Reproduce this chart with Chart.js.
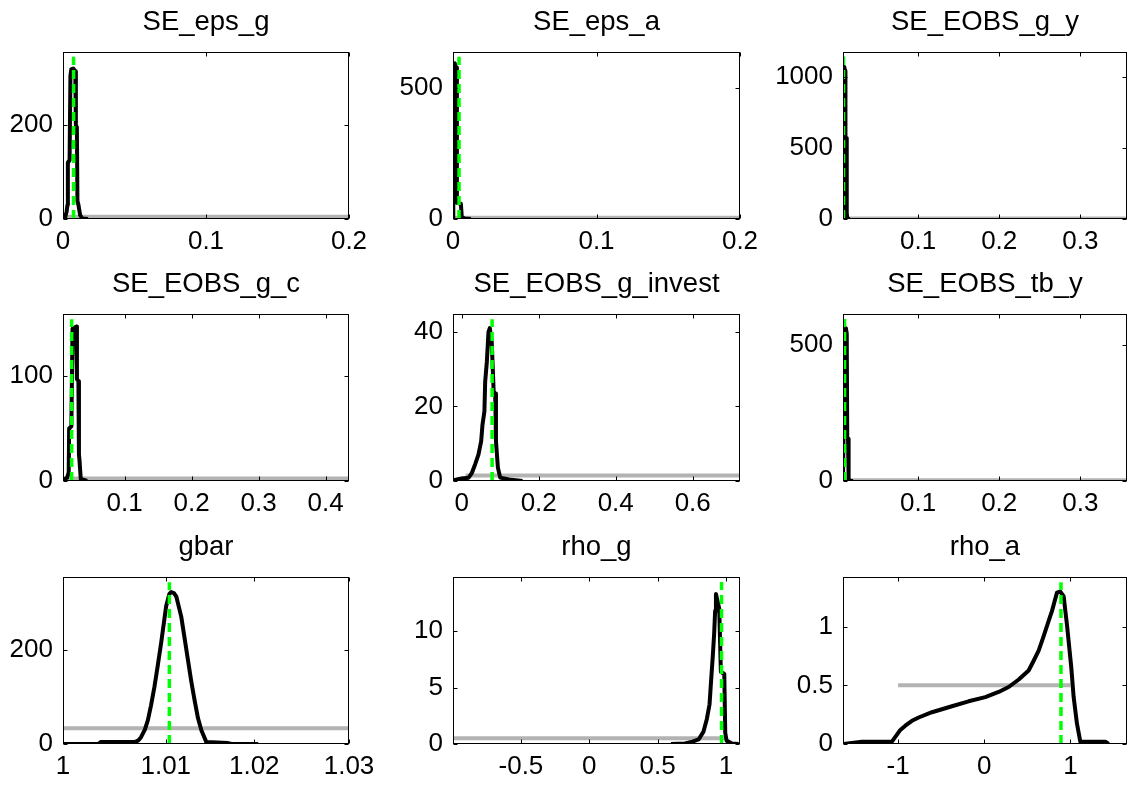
<!DOCTYPE html>
<html><head><meta charset="utf-8">
<script src="https://cdn.jsdelivr.net/npm/chart.js@4.4.1/dist/chart.umd.min.js"></script>
<style>
html,body{margin:0;padding:0;background:#fff;overflow:hidden;width:1128px;height:786px;}
#wrap{position:relative;width:1128px;height:786px;overflow:hidden;background:#fff;}
canvas{position:absolute;}
</style></head><body><div id="wrap"></div>
<script>
// ---------------- data ----------------
const titles = ['SE_eps_g','SE_eps_a','SE_EOBS_g_y','SE_EOBS_g_c','SE_EOBS_g_invest','SE_EOBS_tb_y','gbar','rho_g','rho_a'];

const SE_eps_g_x = [0, 0.0015, 0.0025, 0.0031, 0.0034, 0.0046, 0.0052, 0.0058, 0.0072, 0.0086, 0.009, 0.0097, 0.0101, 0.0108, 0.012, 0.0135, 0.0175];
const SE_eps_g_y = [0, 4, 15, 30, 120, 125, 305, 318, 320, 314, 200, 195, 38, 30, 8, 1, 0];

const SE_eps_a_x = [0, 0.0002, 0.0012, 0.0021, 0.0027, 0.0055, 0.0061, 0.008, 0.0125];
const SE_eps_a_y = [0, 585, 594, 578, 62, 58, 8, 2, 0];

const SE_EOBS_g_y_x = [0.0076, 0.0084, 0.0092, 0.0101, 0.0106, 0.0117, 0.0122, 0.013, 0.016];
const SE_EOBS_g_y_y = [0, 1070, 1072, 1045, 580, 572, 40, 3, 0];

const SE_EOBS_g_c_x = [0.008, 0.014, 0.0165, 0.0172, 0.0205, 0.0222, 0.0275, 0.0288, 0.031, 0.0318, 0.0326, 0.0345, 0.044];
const SE_EOBS_g_c_y = [1, 3, 8, 50, 52, 145, 147, 97, 95, 25, 20, 2, 0];

const SE_EOBS_g_invest_x = [-0.0226, 0.0, 0.018, 0.0266, 0.035, 0.0435, 0.0506, 0.054, 0.059, 0.061, 0.0653, 0.0696, 0.073, 0.078, 0.083, 0.087, 0.089, 0.094, 0.1, 0.123, 0.158];
const SE_EOBS_g_invest_y = [0.2, 0.7, 0.9, 2.2, 4.5, 7.1, 10.7, 15.1, 18.7, 26.7, 32, 40, 41, 37.3, 24, 23.5, 10.7, 3.6, 0.9, 0.4, 0];

const SE_EOBS_tb_y_x = [0.0076, 0.0098, 0.0112, 0.0122, 0.0128, 0.0138, 0.0145, 0.016, 0.02];
const SE_EOBS_tb_y_y = [0, 555, 560, 540, 160, 155, 8, 0, 0];

const gbar_x = [0.9983, 1.0022, 1.0024, 1.0062, 1.0066, 1.00693, 1.00735, 1.00769, 1.00805, 1.00843, 1.0088, 1.00918, 1.00974, 1.0101, 1.0103, 1.0106, 1.01087, 1.01143, 1.0118, 1.01218, 1.01255, 1.01292, 1.0133, 1.01368, 1.01424, 1.01668, 1.01705, 1.02005];
const gbar_y = [0, 0.4, 4, 4, 7, 14.5, 30, 50, 82, 121, 166, 214, 292, 318, 322, 320, 313, 270, 225, 178, 133, 93, 55, 29, 4, 2, 0, 0];

const rho_g_x = [0.598, 0.70, 0.756, 0.80, 0.836, 0.86, 0.88, 0.892, 0.904, 0.914, 0.921, 0.927, 0.94, 0.951, 0.963, 0.988, 0.995, 1.005, 1.044, 1.093];
const rho_g_y = [0, 0.05, 0.2, 0.4, 1.1, 2.2, 3.5, 5.7, 7.8, 9.8, 11.8, 13.3, 12.6, 12.0, 6.4, 6.2, 1.0, 0.3, 0.05, 0];

const rho_a_x = [-1.631, -1.419, -1.071, -0.974, -0.916, -0.839, -0.761, -0.607, -0.375, -0.182, 0.012, 0.167, 0.283, 0.40, 0.515, 0.573, 0.631, 0.689, 0.747, 0.786, 0.843, 0.88, 0.921, 0.959, 1.009, 1.037, 1.075, 1.114, 1.404, 1.443];
const rho_a_y = [0, 0.02, 0.02, 0.12, 0.156, 0.198, 0.226, 0.271, 0.322, 0.364, 0.40, 0.444, 0.486, 0.55, 0.627, 0.71, 0.797, 0.92, 1.05, 1.135, 1.29, 1.30, 1.26, 1.02, 0.656, 0.40, 0.175, 0.02, 0.02, 0];

const posteriorX = [SE_eps_g_x, SE_eps_a_x, SE_EOBS_g_y_x, SE_EOBS_g_c_x, SE_EOBS_g_invest_x, SE_EOBS_tb_y_x, gbar_x, rho_g_x, rho_a_x];
const posteriorY = [SE_eps_g_y, SE_eps_a_y, SE_EOBS_g_y_y, SE_EOBS_g_c_y, SE_EOBS_g_invest_y, SE_EOBS_tb_y_y, gbar_y, rho_g_y, rho_a_y];

const modeValues  = [0.0074, 0.0042, 0.0082, 0.0209, 0.079, 0.0095, 1.0101, 0.968, 0.89];
const modeLineTop = [345, 619, 1146, 154, 43.4, 594, 343, 14.35, 1.38];

const priorDensity = [5, 5, 2.85, 2.33, 1.5, 2.85, 33.3, 0.5, 0.5];
const priorLow  = [0, 0, 0.0076, 0.008, 0.010, 0.0076, 0.9982, -1, -1];
const priorHigh = [0.2, 0.2, 0.3574, 0.435, 0.7228, 0.3574, 1.0302, 1, 1];

const xMin = [0, 0, 0.0076, 0.008, -0.0226, 0.0076, 0.9982, -0.997, -1.639];
const xMax = [0.2, 0.2, 0.3574, 0.435, 0.7228, 0.3574, 1.0302, 1.103, 1.656];
const yMax = [355, 637, 1178, 159, 44.8, 612, 354, 14.8, 1.424];

const xTickValues = [[0,0.1,0.2],[0,0.1,0.2],[0.1,0.2,0.3],[0.1,0.2,0.3,0.4],[0,0.2,0.4,0.6],[0.1,0.2,0.3],[0.9982,1.0097,1.0196,1.0302],[-0.5,0,0.5,1],[-1,0,1]];
const xTickLabels = [['0','0.1','0.2'],['0','0.1','0.2'],['0.1','0.2','0.3'],['0.1','0.2','0.3','0.4'],['0','0.2','0.4','0.6'],['0.1','0.2','0.3'],['1','1.01','1.02','1.03'],['-0.5','0','0.5','1'],['-1','0','1']];
const yTickValues = [[0,200],[0,500],[0,500,1000],[0,100],[0,20,40],[0,500],[0,200],[0,5,10],[0,0.5,1]];
const yTickLabels = [['0','200'],['0','500'],['0','500','1000'],['0','100'],['0','20','40'],['0','500'],['0','200'],['0','5','10'],['0','0.5','1']];

// ---------------- layout & style ----------------
const colLeft = [63, 453, 843];
const colWidth = [286, 287, 284];
const rowTop = [0, 262, 525];
const TITLE_H = 52, BOX_H = 167, YW = 80, RP = 80, XH = 50;
const FONT = '"Liberation Sans", Arial, Helvetica, sans-serif';
const TITLE_SIZE = 27.5, TICK_SIZE = 26;

const boxPlugin = {
  id: 'matlabBox',
  afterDatasetsDraw(chart) {
    const {ctx, chartArea: a, scales} = chart;
    ctx.save();
    ctx.strokeStyle = '#000';
    ctx.lineWidth = 1;
    const L = Math.round(a.left) + 0.5, R = Math.round(a.right) - 0.5;
    const T = Math.round(a.top) + 0.5, B = Math.round(a.bottom) - 0.5;
    ctx.strokeRect(L, T, R - L, B - T);
    const tl = 4;
    ctx.beginPath();
    scales.x.ticks.forEach(t => {
      const p = Math.round(scales.x.getPixelForValue(t.value)) + 0.5;
      ctx.moveTo(p, B); ctx.lineTo(p, B - tl);
      ctx.moveTo(p, T); ctx.lineTo(p, T + tl);
    });
    scales.y.ticks.forEach(t => {
      const p = Math.round(scales.y.getPixelForValue(t.value)) + 0.5;
      ctx.moveTo(L, p); ctx.lineTo(L + tl, p);
      ctx.moveTo(R, p); ctx.lineTo(R - tl, p);
    });
    ctx.stroke();
    ctx.restore();
  }
};

const wrap = document.getElementById('wrap');
for (let i = 0; i < 9; i++) {
  const r = Math.floor(i / 3), c = i % 3;
  const cv = document.createElement('canvas');
  const W = YW + colWidth[c] + RP, H = TITLE_H + BOX_H + XH;
  cv.width = W; cv.height = H;
  cv.style.width = W + 'px'; cv.style.height = H + 'px';
  cv.style.left = (colLeft[c] - YW) + 'px';
  cv.style.top = rowTop[r] + 'px';
  wrap.appendChild(cv);

  const post = posteriorX[i].map((x, k) => ({x: x, y: posteriorY[i][k]}));
  const prior = [{x: priorLow[i], y: priorDensity[i]}, {x: priorHigh[i], y: priorDensity[i]}];
  const mode = [{x: modeValues[i], y: 0}, {x: modeValues[i], y: modeLineTop[i]}];

  new Chart(cv, {
    type: 'line',
    data: { datasets: [
      {data: mode, borderColor: '#00ff00', borderWidth: 3.5, borderDash: [9, 5], pointRadius: 0, tension: 0, borderCapStyle: 'butt'},
      {data: post, borderColor: '#000000', borderWidth: 4, pointRadius: 0, tension: 0, borderJoinStyle: 'round'},
      {data: prior, borderColor: '#b3b3b3', borderWidth: 4, pointRadius: 0, tension: 0}
    ]},
    options: {
      responsive: false, animation: false, devicePixelRatio: 1,
      events: [],
      layout: {padding: {left: 0, right: RP, top: 0, bottom: 0}},
      plugins: {
        legend: {display: false},
        tooltip: {enabled: false},
        title: {display: true, fullSize: false, text: titles[i], color: '#000',
                font: {family: FONT, size: TITLE_SIZE, weight: 'normal', lineHeight: 1.2},
                padding: {top: 6, bottom: 13}}
      },
      scales: {
        x: {
          type: 'linear', min: xMin[i], max: xMax[i],
          grid: {display: false, drawTicks: false},
          border: {display: false},
          ticks: {autoSkip: false, maxRotation: 0, minRotation: 0, padding: 7.5, color: '#000',
                  font: {family: FONT, size: TICK_SIZE},
                  callback: (v, idx) => xTickLabels[i][idx]},
          afterBuildTicks: s => { s.ticks = xTickValues[i].map(v => ({value: v})); },
          afterFit: s => { s.height = XH; s.paddingLeft = 0; s.paddingRight = 0; }
        },
        y: {
          type: 'linear', min: 0, max: yMax[i],
          grid: {display: false, drawTicks: false},
          border: {display: false},
          ticks: {autoSkip: false, padding: 10, color: '#000',
                  font: {family: FONT, size: TICK_SIZE},
                  callback: (v, idx) => yTickLabels[i][idx]},
          afterBuildTicks: s => { s.ticks = yTickValues[i].map(v => ({value: v})); },
          afterFit: s => { s.width = YW; s.paddingTop = 0; s.paddingBottom = 0; }
        }
      }
    },
    plugins: [boxPlugin]
  });
}
</script>
</body></html>
